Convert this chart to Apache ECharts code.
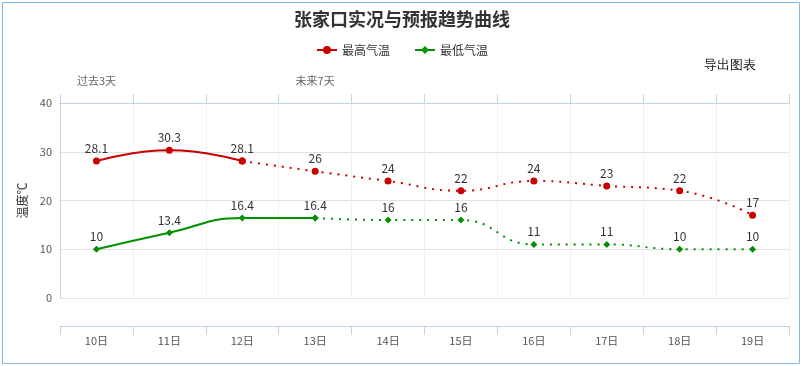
<!DOCTYPE html>
<html>
<head>
<meta charset="utf-8">
<script src="https://cdn.jsdelivr.net/npm/echarts@6/dist/echarts.min.js"></script>
<style>
html,body{margin:0;padding:0;background:#fff;}
#chart{width:804px;height:366px;}
</style>
</head>
<body>
<div id="chart"></div>
<script>
var days = ['10日','11日','12日','13日','14日','15日','16日','17日','18日','19日'];
var periodLabels = ['过去3天','','','未来7天','','','','','',''];
var highTemps = [28.1, 30.3, 28.1, 26, 24, 22, 24, 23, 22, 17];
var lowTemps = [10, 13.4, 16.4, 16.4, 16, 16, 11, 11, 10, 10];
var highObservedCount = 3; // 10日-12日 solid
var lowObservedCount = 4;  // 10日-13日 solid
var yTicks = {min: 0, max: 40, interval: 10};

var RED = '#c80000', GREEN = '#009000';
var FONT = '"Noto Sans CJK SC", "Noto Sans", sans-serif';

function part(arr, from, to) {
  return arr.map(function (v, i) { return (i >= from && i < to) ? v : null; });
}

var labelCfg = {show: true, position: 'top', color: '#333', fontSize: 12, distance: 3, fontFamily: FONT};

function mkSeries(name, data, color, symbol, size, dotted, showLabelFrom) {
  return {
    name: name,
    type: 'line',
    xAxisIndex: 0,
    smooth: true,
    data: data.map(function (v, i) {
      return {value: v, label: {show: v !== null && i >= showLabelFrom}};
    }),
    symbol: symbol,
    symbolSize: size,
    showAllSymbol: true,
    connectNulls: false,
    itemStyle: {color: color},
    lineStyle: {color: color, width: 2, type: dotted ? [2, 6] : 'solid'},
    label: labelCfg,
    z: dotted ? 2 : 3
  };
}

var chart = echarts.init(document.getElementById('chart'));
chart.setOption({
  backgroundColor: '#fff',
  animation: false,
  textStyle: {fontFamily: FONT},
  title: {
    text: '张家口实况与预报趋势曲线',
    left: 'center', top: 5,
    textStyle: {fontSize: 18, fontWeight: 'bold', color: '#333', fontFamily: FONT}
  },
  legend: {
    data: ['最高气温', '最低气温'],
    top: 39, left: 'center',
    itemWidth: 20, itemHeight: 10, itemGap: 24,
    textStyle: {fontSize: 12, color: '#333', fontFamily: FONT}
  },
  graphic: [
    {type: 'rect', shape: {x: 2.5, y: 2.5, width: 797, height: 361},
     style: {fill: 'none', stroke: '#86b6e6', lineWidth: 1}, silent: true, z: -1},
    {type: 'text', left: 704, top: 59,
     style: {text: '导出图表', fontSize: 13, fill: '#111', font: '13px ' + FONT}}
  ],
  grid: {left: 60, right: 15, top: 103, bottom: 68},
  xAxis: [
    {
      type: 'category', position: 'bottom', offset: 28,
      data: days, boundaryGap: true,
      axisLine: {onZero: false, lineStyle: {color: '#c4d2e8'}},
      axisTick: {show: true, length: 9, lineStyle: {color: '#c4d2e8'}},
      axisLabel: {color: '#555', fontSize: 11, margin: 9},
      splitLine: {show: true, lineStyle: {color: '#eef0f5'}}
    },
    {
      type: 'category', position: 'top',
      data: periodLabels, boundaryGap: true,
      axisLine: {onZero: false, lineStyle: {color: '#c4d2e8'}},
      axisTick: {show: true, length: 9, lineStyle: {color: '#c4d2e8'}},
      axisLabel: {color: '#666', fontSize: 11, margin: 17, interval: 0},
      splitLine: {show: false}
    }
  ],
  yAxis: {
    type: 'value', min: yTicks.min, max: yTicks.max, interval: yTicks.interval,
    name: '温度℃', nameLocation: 'middle', nameGap: 25, nameRotate: 90,
    nameTextStyle: {color: '#333', fontSize: 12},
    axisLine: {show: true, lineStyle: {color: '#c4d2e8'}},
    axisTick: {show: false},
    axisLabel: {color: '#555', fontSize: 11, margin: 8},
    splitLine: {lineStyle: {color: '#e2e2e2'}}
  },
  series: [
    mkSeries('最高气温', part(highTemps, 0, highObservedCount), RED, 'circle', 7, false, 0),
    mkSeries('最高气温', part(highTemps, highObservedCount - 1, highTemps.length), RED, 'circle', 7, true, highObservedCount),
    mkSeries('最低气温', part(lowTemps, 0, lowObservedCount), GREEN, 'diamond', 7, false, 0),
    mkSeries('最低气温', part(lowTemps, lowObservedCount - 1, lowTemps.length), GREEN, 'diamond', 7, true, lowObservedCount)
  ]
});
</script>
</body>
</html>
